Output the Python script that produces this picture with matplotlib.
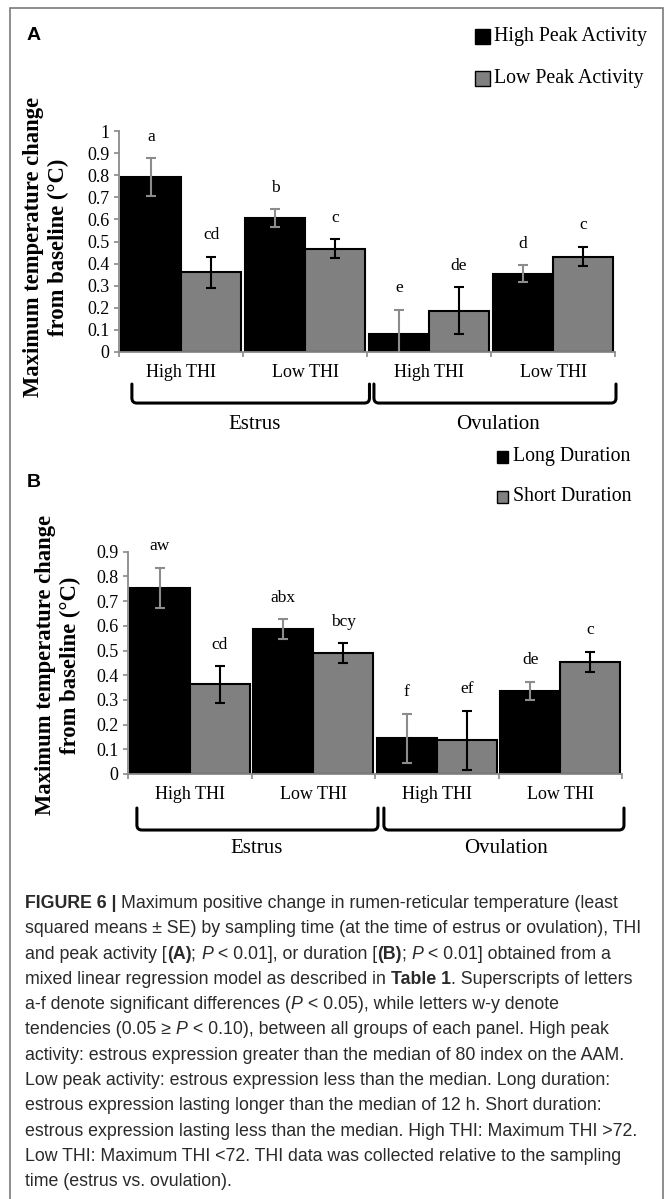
import numpy as np
import matplotlib
matplotlib.use('Agg')
import matplotlib.pyplot as plt
from matplotlib.patches import Rectangle, PathPatch
from matplotlib.path import Path
from matplotlib.font_manager import FontProperties, fontManager

# ---- data ----
thi_groups = ['High THI', 'Low THI', 'High THI', 'Low THI']
sampling_times = ['Estrus', 'Ovulation']

# panel A: peak activity
high_peak = [0.79, 0.605, 0.08, 0.354]
high_peak_se = [0.086, 0.040, 0.112, 0.039]
low_peak = [0.36, 0.468, 0.187, 0.431]
low_peak_se = [0.072, 0.042, 0.106, 0.044]
high_peak_letters = ['a', 'b', 'e', 'd']
low_peak_letters = ['cd', 'c', 'de', 'c']

# panel B: duration
long_dur = [0.755, 0.587, 0.144, 0.336]
long_dur_se = [0.081, 0.040, 0.100, 0.037]
short_dur = [0.363, 0.490, 0.137, 0.453]
short_dur_se = [0.074, 0.039, 0.120, 0.042]
long_dur_letters = ['aw', 'abx', 'f', 'de']
short_dur_letters = ['cd', 'bcy', 'ef', 'c']

W, H = 665, 1199
SERIF = 'Liberation Serif'
names = {f.name for f in fontManager.ttflist}
CAP_FONT = 'Liberation Sans Narrow' if 'Liberation Sans Narrow' in names else 'Liberation Sans'
GREY = '#808080'
AXIS_GREY = '#8a8a8a'

fig = plt.figure(figsize=(W / 100, H / 100), dpi=100)
renderer = fig.canvas.get_renderer()


def fx(px):
    return px / W


def fy(py):
    return 1 - py / H


def add_axes(left, right, top, bottom):
    return fig.add_axes([fx(left), fy(bottom), (right - left) / W, (bottom - top) / H])


def bracket(ax, x0, x1, y0, y1):
    ''' Bracket under a pair of categories, in axes coords. '''
    bb = ax.get_position()
    rx = 5 / (bb.width * W)
    ry = 5 / (bb.height * H)
    verts = [(x0, y0), (x0, y1 + ry), (x0, y1), (x0 + rx, y1),
             (x1 - rx, y1), (x1, y1), (x1, y1 + ry), (x1, y0)]
    codes = [Path.MOVETO, Path.LINETO, Path.CURVE3, Path.CURVE3,
             Path.LINETO, Path.CURVE3, Path.CURVE3, Path.LINETO]
    ax.add_patch(PathPatch(Path(verts, codes), fill=False, lw=2.2, ec='black',
                           transform=ax.transAxes, clip_on=False,
                           capstyle='round', joinstyle='round'))


def draw_panel(ax, s1, e1, l1, s2, e2, l2, ymax, ylabels, brackets, group_pos):
    x = np.arange(len(thi_groups))
    w = 0.485
    ax.bar(x - w / 2, s1, w, color='black', edgecolor='black', linewidth=1.5, zorder=2)
    ax.bar(x + w / 2, s2, w, color=GREY, edgecolor='black', linewidth=1.5, zorder=2)
    ax.errorbar(x - w / 2, s1, yerr=e1, fmt='none', ecolor='#8c8c8c',
                elinewidth=1.5, capsize=3.5, capthick=1.5, zorder=3)
    ax.errorbar(x + w / 2, s2, yerr=e2, fmt='none', ecolor='black',
                elinewidth=1.5, capsize=3.5, capthick=1.5, zorder=3)
    for xs, vals, errs, labs in ((x - w / 2, s1, e1, l1), (x + w / 2, s2, e2, l2)):
        for xi, v, e, lab in zip(xs, vals, errs, labs):
            ax.annotate(lab, (xi, v + e), xytext=(0, 15.5), textcoords='offset points',
                        ha='center', va='center', fontsize=12.5, family=SERIF)

    ax.set_xlim(-0.5, 3.5)
    ax.set_ylim(0, ymax)
    ax.set_yticks(np.arange(len(ylabels)) * 0.1)
    ax.set_yticklabels(ylabels, fontsize=13, family=SERIF)
    ax.set_xticks(x)
    ax.set_xticklabels(thi_groups, fontsize=13, family=SERIF)
    ax.set_xticks(np.arange(-0.5, 4), minor=True)
    ax.tick_params(axis='x', which='major', length=0, pad=8.5)
    ax.tick_params(axis='x', which='minor', length=3.5, width=1.2, color=AXIS_GREY)
    ax.tick_params(axis='y', length=3.5, width=1.2, color=AXIS_GREY, pad=3.5)
    for side in ('top', 'right'):
        ax.spines[side].set_visible(False)
    for side in ('left', 'bottom'):
        ax.spines[side].set_color(AXIS_GREY)
        ax.spines[side].set_linewidth(1.3)
    ax.set_facecolor('none')

    for x0, x1 in brackets[0]:
        bracket(ax, x0, x1, brackets[1], brackets[2])
    for name, (gx, gy) in zip(sampling_times, group_pos):
        ax.text(gx, gy, name, transform=ax.transAxes, ha='center', va='center',
                fontsize=15, family=SERIF)


def legend_entry(x_sq, y, sq_w, sq_h, color, label, x_txt):
    fig.add_artist(Rectangle((fx(x_sq), fy(y + sq_h / 2)), sq_w / W, sq_h / H,
                             transform=fig.transFigure, facecolor=color,
                             edgecolor='black', linewidth=1.0))
    fig.text(fx(x_txt), fy(y), label, ha='left', va='center', fontsize=14.3, family=SERIF)


# outer frame
fig.add_artist(Rectangle((fx(10), fy(1210)), (663 - 10) / W, (1210 - 8) / H,
                         transform=fig.transFigure, fill=False,
                         edgecolor='#7a7a7a', linewidth=1.2))

# ---- panel A ----
axA = add_axes(119, 615, 131, 352)
draw_panel(axA, high_peak, high_peak_se, high_peak_letters,
           low_peak, low_peak_se, low_peak_letters, 1.0,
           ['0', '0.1', '0.2', '0.3', '0.4', '0.5', '0.6', '0.7', '0.8', '0.9', '1'],
           ([(0.026, 0.505), (0.514, 1.002)], -0.145, -0.231),
           [(0.274, -0.330), (0.765, -0.330)])
fig.text(fx(46), fy(247), 'Maximum temperature change\nfrom baseline (°C)', rotation=90,
         ha='center', va='center', multialignment='center', fontsize=16.3,
         weight='bold', family=SERIF, linespacing=1.2)
fig.text(fx(27), fy(36), 'A', ha='left', va='center', fontsize=14, weight='bold',
         family='Liberation Sans')
legend_entry(475, 36, 15, 15, 'black', 'High Peak Activity', 494)
legend_entry(475, 78, 15, 15, GREY, 'Low Peak Activity', 494)

# ---- panel B ----
axB = add_axes(128, 622, 551.7, 774)
draw_panel(axB, long_dur, long_dur_se, long_dur_letters,
           short_dur, short_dur_se, short_dur_letters, 0.9,
           ['0', '0.1', '0.2', '0.3', '0.4', '0.5', '0.6', '0.7', '0.8', '0.9'],
           ([(0.018, 0.506), (0.518, 1.004)], -0.153, -0.252),
           [(0.261, -0.334), (0.766, -0.334)])
fig.text(fx(58), fy(665), 'Maximum temperature change\nfrom baseline (°C)', rotation=90,
         ha='center', va='center', multialignment='center', fontsize=16.3,
         weight='bold', family=SERIF, linespacing=1.2)
fig.text(fx(27), fy(482), 'B', ha='left', va='center', fontsize=14, weight='bold',
         family='Liberation Sans')
legend_entry(497, 457, 11, 12, 'black', 'Long Duration', 513)
legend_entry(497, 497, 11, 12, GREY, 'Short Duration', 513)

# ---- caption ----
N, B, I = ('normal', 'normal'), ('bold', 'normal'), ('normal', 'italic')
caption = [
    [('FIGURE 6 | ', B), ('Maximum positive change in rumen-reticular temperature (least', N)],
    [('squared means \u00b1 SE) by sampling time (at the time of estrus or ovulation), THI', N)],
    [('and peak activity [', N), ('(A)', B), ('; ', N), ('P', I), (' < 0.01], or duration [', N),
     ('(B)', B), ('; ', N), ('P', I), (' < 0.01] obtained from a', N)],
    [('mixed linear regression model as described in ', N), ('Table 1', B),
     ('. Superscripts of letters', N)],
    [('a-f denote significant differences (', N), ('P', I), (' < 0.05), while letters w-y denote', N)],
    [('tendencies (0.05 \u2265 ', N), ('P', I), (' < 0.10), between all groups of each panel. High peak', N)],
    [('activity: estrous expression greater than the median of 80 index on the AAM.', N)],
    [('Low peak activity: estrous expression less than the median. Long duration:', N)],
    [('estrous expression lasting longer than the median of 12 h. Short duration:', N)],
    [('estrous expression lasting less than the median. High THI: Maximum THI >72.', N)],
    [('Low THI: Maximum THI <72. THI data was collected relative to the sampling', N)],
    [('time (estrus vs. ovulation).', N)],
]


def run_width(txt, size, weight, style):
    prop = FontProperties(family=CAP_FONT, size=size, weight=weight, style=style)
    wf = renderer.get_text_width_height_descent('|' + txt + '|', prop, False)[0]
    wb = renderer.get_text_width_height_descent('||', prop, False)[0]
    return wf - wb


# scale the caption font so the longest line fits the column width
ref = caption[1][0][0]
cap_size = 10 * 618 / run_width(ref, 10, 'normal', 'normal')

for i, line in enumerate(caption):
    x = 25
    y = 908 + i * 25.3
    for txt, (weight, style) in line:
        fig.text(fx(x), fy(y), txt, ha='left', va='baseline', fontsize=cap_size,
                 family=CAP_FONT, weight=weight, style=style, color='#2a2a2a')
        x += run_width(txt, cap_size, weight, style)

fig.savefig('out.png', dpi=100)
